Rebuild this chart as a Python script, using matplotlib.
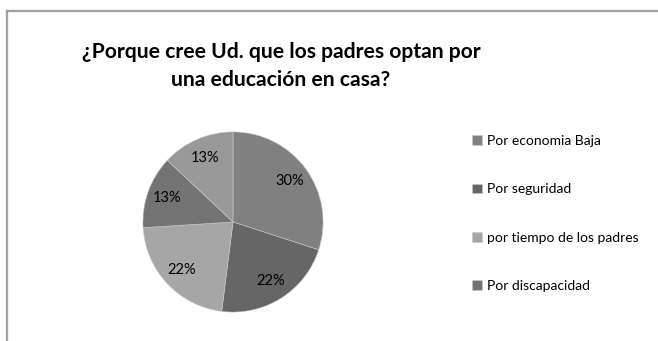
import matplotlib
matplotlib.use("Agg")
import matplotlib.pyplot as plt
from matplotlib.lines import Line2D

# ── data ────────────────────────────────────────────────────
categories = [
    "Por economia Baja",
    "Por seguridad",
    "por tiempo de los padres",
    "Por discapacidad",
    "Otros",
]
values = [30, 22, 22, 13, 13]
colors = ["#808080", "#666666", "#a6a6a6", "#737373", "#999999"]

plt.rcParams["font.family"] = ["Lato", "DejaVu Sans"]

W, H = 658, 341
fig = plt.figure(figsize=(W / 100, H / 100), dpi=100)
fig.patch.set_facecolor("white")

# ── chart frame (only left & top visible) ───────────────────
fig.add_artist(Line2D([6.5 / W, 6.5 / W], [0, 1 - 10.5 / H],
                      color="#a0a0a0", lw=1.6, transform=fig.transFigure))
fig.add_artist(Line2D([6.5 / W, 1], [1 - 10.5 / H, 1 - 10.5 / H],
                      color="#a0a0a0", lw=1.6, transform=fig.transFigure))

# ── title ───────────────────────────────────────────────────
fig.text(281 / W, 1 - 66 / H,
         "¿Porque cree Ud. que los padres optan por\nuna educación en casa?",
         ha="center", va="center", fontsize=15.2, fontweight="bold",
         linespacing=1.5, color="black")

# ── pie ─────────────────────────────────────────────────────
cx, cy, r = 233, 222, 91
ax = fig.add_axes([(cx - r) / W, (H - cy - r) / H, 2 * r / W, 2 * r / H])
wedges, texts, autotexts = ax.pie(
    values,
    colors=colors,
    startangle=90,
    counterclock=False,
    autopct="%1.0f%%",
    pctdistance=0.78,
    radius=1.0,
    wedgeprops=dict(edgecolor="#c8c8c8", linewidth=0.4),
    textprops=dict(fontsize=10.5, color="black"),
)
ax.set_xlim(-1.01, 1.01)
ax.set_ylim(-1.01, 1.01)
ax.set_aspect("equal")
ax.axis("off")

# ── legend (first four entries visible) ─────────────────────
fig.legend(
    wedges[:4], categories[:4],
    loc="upper left",
    bbox_to_anchor=(465 / W, 1 - 128 / H),
    frameon=False,
    fontsize=10,
    handlelength=0.7,
    handleheight=0.7,
    handletextpad=0.35,
    labelspacing=2.62,
    borderpad=0,
)

fig.savefig("out.png", dpi=100)
